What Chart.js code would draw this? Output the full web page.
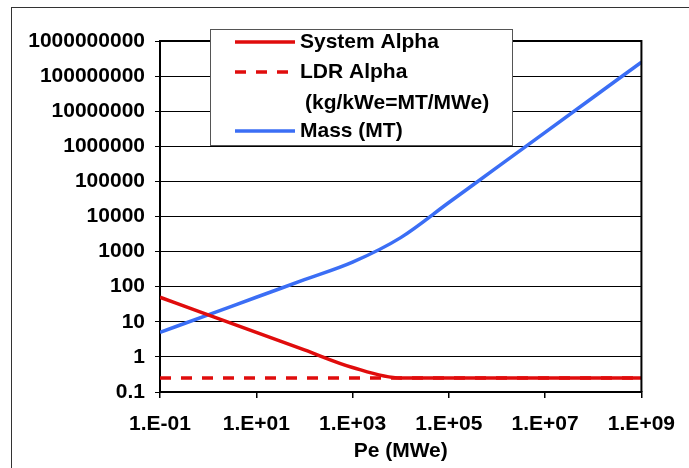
<!DOCTYPE html>
<html>
<head>
<meta charset="utf-8">
<script src="https://cdn.jsdelivr.net/npm/chart.js@4"></script>
<style>
  html, body { margin: 0; padding: 0; background: #fff; }
  #wrap { position: relative; width: 689px; height: 468px; overflow: hidden; }
  #frame { position: absolute; left: 11px; top: 7px; width: 800px; height: 600px;
           border-left: 1.5px solid #333; border-top: 1.5px solid #333; }
  canvas { position: absolute; left: 0; top: 0; }
</style>
</head>
<body>
<div id="wrap">
  <div id="frame"></div>
  <canvas id="chart" width="689" height="468"></canvas>
</div>
<script>
// Pe (MWe), one point per decade
const pe = [0.1, 1, 10, 100, 1e3, 1e4, 1e5, 1e6, 1e7, 1e8, 1e9];
// kg/kWe
const systemAlpha = [50, 15.8, 5, 1.58, 0.5, 0.25, 0.25, 0.25, 0.25, 0.25, 0.25];
const ldrAlpha = [0.25, 0.25, 0.25, 0.25, 0.25, 0.25, 0.25, 0.25, 0.25, 0.25, 0.25];
// MT
const mass = [5, 15.8, 50, 158, 500, 2500, 25000, 250000, 2.5e6, 2.5e7, 2.5e8];

const xTicks = [0.1, 10, 1e3, 1e5, 1e7, 1e9];
const xTickLabels = ['1.E-01', '1.E+01', '1.E+03', '1.E+05', '1.E+07', '1.E+09'];
const yTicks = [0.1, 1, 10, 100, 1000, 10000, 100000, 1000000, 10000000, 100000000, 1000000000];
const yTickLabels = ['0.1', '1', '10', '100', '1000', '10000', '100000', '1000000',
                     '10000000', '100000000', '1000000000'];

const RED = '#e00c0c';
const BLUE = '#3b6ef5';
const FONT = 'bold 21px "Liberation Sans", Arial, sans-serif';

const pts = ys => pe.map((x, i) => ({ x: x, y: ys[i] }));

// frame around plot area + Excel style legend box
const extras = {
  id: 'extras',
  afterDraw(chart) {
    const ctx = chart.ctx;
    const a = chart.chartArea;
    ctx.save();
    ctx.strokeStyle = '#000';
    ctx.lineWidth = 2;
    ctx.beginPath();
    ctx.moveTo(a.left, a.top);
    ctx.lineTo(a.right, a.top);
    ctx.lineTo(a.right, a.bottom);
    ctx.stroke();

    // legend
    ctx.fillStyle = '#fff';
    ctx.fillRect(210, 29, 303, 117);
    ctx.strokeStyle = '#555';
    ctx.lineWidth = 1;
    ctx.strokeRect(210.5, 29.5, 302, 116);

    ctx.lineWidth = 3.5;
    ctx.strokeStyle = RED;
    ctx.beginPath(); ctx.moveTo(235, 42); ctx.lineTo(295, 42); ctx.stroke();
    ctx.setLineDash([11, 10]);
    ctx.beginPath(); ctx.moveTo(235, 72); ctx.lineTo(295, 72); ctx.stroke();
    ctx.setLineDash([]);
    ctx.strokeStyle = BLUE;
    ctx.beginPath(); ctx.moveTo(235, 131); ctx.lineTo(295, 131); ctx.stroke();

    ctx.fillStyle = '#000';
    ctx.font = FONT;
    ctx.textBaseline = 'middle';
    ctx.textAlign = 'left';
    ctx.fillText('System Alpha', 300, 42);
    ctx.fillText('LDR Alpha', 300, 72);
    ctx.fillText('(kg/kWe=MT/MWe)', 305, 103);
    ctx.fillText('Mass (MT)', 300, 131);
    ctx.restore();
  }
};

new Chart(document.getElementById('chart'), {
  type: 'line',
  data: {
    datasets: [
      { label: 'System Alpha', data: pts(systemAlpha), borderColor: RED, borderWidth: 3.5,
        pointRadius: 0, cubicInterpolationMode: 'monotone' },
      { label: 'LDR Alpha', data: pts(ldrAlpha), borderColor: RED, borderWidth: 3.5,
        borderDash: [11, 10], pointRadius: 0 },
      { label: 'Mass (MT)', data: pts(mass), borderColor: BLUE, borderWidth: 3.5,
        pointRadius: 0, cubicInterpolationMode: 'monotone' }
    ]
  },
  options: {
    responsive: false,
    animation: false,
    layout: { padding: { left: 0, right: 46, top: 41, bottom: 0 } },
    plugins: { legend: { display: false }, tooltip: { enabled: false } },
    scales: {
      x: {
        type: 'logarithmic',
        min: 0.1,
        max: 1e9,
        afterBuildTicks: s => { s.ticks = xTicks.map(v => ({ value: v })); },
        afterFit: s => { s.height = 76; },
        ticks: {
          autoSkip: false,
          maxRotation: 0,
          padding: 14,
          color: '#000',
          font: { family: '"Liberation Sans", Arial', size: 21, weight: 'bold' },
          callback: (v) => xTickLabels[xTicks.indexOf(v)]
        },
        grid: { drawOnChartArea: false, drawTicks: true, tickLength: 6, color: '#000', lineWidth: 1.5 },
        border: { color: '#000', width: 2 },
        title: {
          display: true,
          text: 'Pe (MWe)',
          color: '#000',
          font: { family: '"Liberation Sans", Arial', size: 21, weight: 'bold' },
          padding: { top: 0, bottom: 4 }
        }
      },
      y: {
        type: 'logarithmic',
        min: 0.1,
        max: 1e9,
        afterBuildTicks: s => { s.ticks = yTicks.map(v => ({ value: v })); },
        afterFit: s => { s.width = 160; },
        ticks: {
          autoSkip: false,
          padding: 10,
          color: '#000',
          font: { family: '"Liberation Sans", Arial', size: 21, weight: 'bold' },
          callback: (v) => yTickLabels[yTicks.indexOf(v)]
        },
        grid: { color: '#000', lineWidth: 1, tickLength: 5 },
        border: { color: '#000', width: 2 }
      }
    }
  },
  plugins: [extras]
});
</script>
</body>
</html>
